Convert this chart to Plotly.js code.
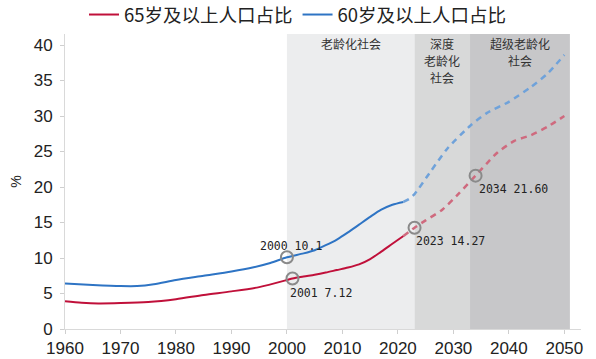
<!DOCTYPE html>
<html>
<head>
<meta charset="utf-8">
<script src="https://cdn.plot.ly/plotly-3.0.1.min.js"></script>
<style>html,body{margin:0;padding:0;background:#fff;}#chart{width:596px;height:359px;}</style>
</head>
<body>
<div id="chart"></div>
<script>
// ---- data ----
const yearsA = [1960,1963,1966,1970,1975,1980,1985,1990,1995,2000,2001,2003,2005,2007,2009,2011,2013,2015,2017,2019,2021];
const age65A = [3.9,3.7,3.6,3.65,3.8,4.2,4.8,5.3,5.9,6.9,7.12,7.4,7.65,7.95,8.3,8.65,9.1,9.85,10.9,12.0,13.1];
const yearsB = [2021,2022,2023,2025,2028,2031,2034,2036,2038,2041,2044,2047,2050];
const age65B = [13.1,13.7,14.27,15.3,16.8,19.1,21.6,23.3,24.9,26.5,27.3,28.5,30.0];
const yearsC = [1960,1965,1970,1973,1976,1980,1985,1990,1994,1997,2000,2003,2005,2007,2009,2011,2013,2015,2017,2019,2021];
const age60A = [6.4,6.2,6.05,6.05,6.3,6.9,7.5,8.1,8.7,9.3,10.1,10.65,11.1,11.8,12.6,13.6,14.7,15.8,16.8,17.5,17.9];
const yearsD = [2021,2022,2023,2026,2029,2033,2036,2040,2044,2047,2050];
const age60B = [17.9,18.3,19.0,22.3,25.5,28.6,30.4,32.0,34.1,36.0,38.6];

const eraStarts = [2000, 2023, 2033];
const eraEnds   = [2023, 2033, 2051];
const eraLabels = [["老龄化社会"], ["深度", "老龄化", "社会"], ["超级老龄化", "社会"]];

const noteYears  = [2000, 2001, 2023, 2034];
const noteValues = [10.1, 7.12, 14.27, 21.60];
const noteTexts  = ["2000 10.1", "2001 7.12", "2023 14.27", "2034 21.60"];

const seriesNames = ["65岁及以上人口占比", "60岁及以上人口占比"];
const xTicks = [1960,1970,1980,1990,2000,2010,2020,2030,2040,2050];
const yTicks = [0,5,10,15,20,25,30,35,40];

// ---- styles ----
const red = '#c0103a', redLight = '#cf6a7e';
const blue = '#2e74c4', blueLight = '#6fa2da';
const eraColors = ['#ecedee', '#d8d9d9', '#c7c7c9'];

const traces = [
  {x: yearsA, y: age65A, name: seriesNames[0], mode: 'lines', line: {color: red, width: 2, shape: 'spline', smoothing: 0.8}, showlegend: true},
  {x: yearsC, y: age60A, name: seriesNames[1], mode: 'lines', line: {color: blue, width: 2, shape: 'spline', smoothing: 0.8}, showlegend: true},
  {x: yearsB, y: age65B, name: seriesNames[0] + ' 预测', mode: 'lines', line: {color: redLight, width: 2.5, dash: '6px,5px', shape: 'spline', smoothing: 0.6}, showlegend: false},
  {x: yearsD, y: age60B, name: seriesNames[1] + ' 预测', mode: 'lines', line: {color: blueLight, width: 2.5, dash: '6px,5px', shape: 'spline', smoothing: 0.6}, showlegend: false},
  {x: noteYears, y: noteValues, mode: 'markers', marker: {symbol: 'circle-open', size: 12, color: '#8a8a8a', line: {width: 2, color: '#8a8a8a'}}, showlegend: false, hoverinfo: 'skip'}
];

const shapes = eraStarts.map((s, i) => ({
  type: 'rect', xref: 'x', yref: 'paper', x0: s, x1: eraEnds[i], y0: 0, y1: 1,
  fillcolor: eraColors[i], line: {width: 0}, layer: 'below'
}));

const annotations = [];
eraStarts.forEach((s, i) => {
  eraLabels[i].forEach((line, k) => {
    annotations.push({
      x: (s + eraEnds[i]) / 2, y: 1, xref: 'x', yref: 'paper', yanchor: 'middle', xanchor: 'center',
      yshift: -9.5 - 16.8 * k, text: line, showarrow: false,
      font: {family: 'Noto Sans CJK SC', size: 12, color: '#333'}
    });
  });
});

const noteOffsets = [[-29, 11], [-4, -15], [-1, -13], [1, -13]];
noteYears.forEach((yr, i) => {
  annotations.push({
    x: yr, y: noteValues[i], xref: 'x', yref: 'y', xanchor: 'left', yanchor: 'middle',
    xshift: noteOffsets[i][0], yshift: noteOffsets[i][1], text: noteTexts[i], showarrow: false,
    font: {family: 'DejaVu Sans Mono', size: 11.5, color: '#222'}
  });
});

const layout = {
  width: 596, height: 359,
  margin: {l: 65, r: 15, t: 34, b: 30, autoexpand: false},
  paper_bgcolor: '#fff', plot_bgcolor: '#fff',
  font: {family: 'Liberation Sans, Arial, sans-serif', color: '#222'},
  showlegend: true,
  legend: {orientation: 'h', x: 0.5, xanchor: 'center', xref: 'container',
           y: 1 - 15 / 359, yanchor: 'middle', yref: 'container',
           font: {family: 'Noto Sans CJK SC', size: 18.5, color: '#222'}, itemwidth: 30,
           bgcolor: 'rgba(0,0,0,0)', tracegroupgap: 0},
  xaxis: {range: [1960, 2053], tickvals: xTicks, ticktext: xTicks.map(String),
          showgrid: false, zeroline: false, showline: true, linecolor: '#d9d9d9', linewidth: 1,
          ticks: 'outside', ticklen: 4, tickcolor: '#cfcfcf',
          tickfont: {size: 17, color: '#222'}, fixedrange: true},
  yaxis: {range: [0, 41.55], tickvals: yTicks, ticktext: yTicks.map(String),
          showgrid: false, zeroline: false, showline: true, linecolor: '#d9d9d9', linewidth: 1,
          ticks: 'outside', ticklen: 4, tickcolor: '#cfcfcf', ticklabelstandoff: 4,
          tickfont: {size: 17, color: '#222'},
          title: {text: '%', font: {size: 14, color: '#222'}, standoff: 8}, fixedrange: true},
  shapes: shapes,
  annotations: annotations
};

Plotly.newPlot('chart', traces, layout, {displayModeBar: false, staticPlot: true});
</script>
</body>
</html>
